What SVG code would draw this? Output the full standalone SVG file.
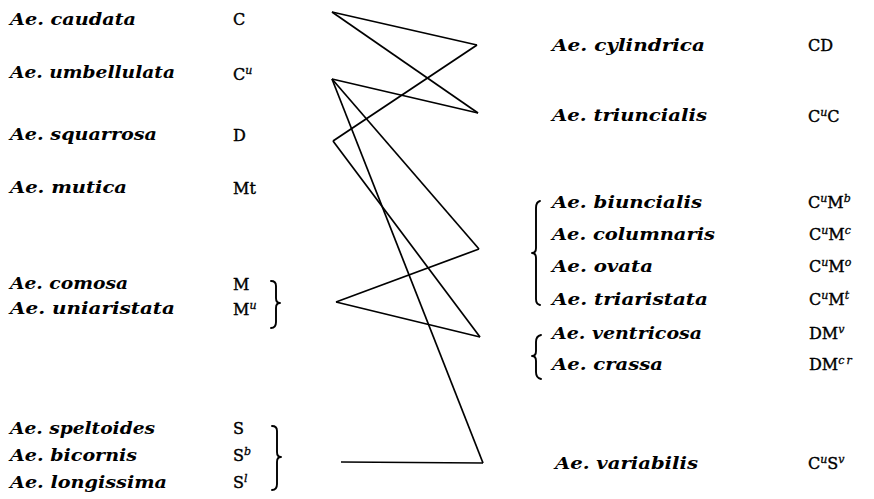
<svg xmlns="http://www.w3.org/2000/svg" width="874" height="499" viewBox="0 0 874 499">
<style>
.sp{font-family:"DejaVu Serif","Liberation Serif",serif;font-weight:bold;font-style:italic;font-size:16px;fill:#000}
.gn{font-family:"DejaVu Serif","Liberation Serif",serif;font-size:16px;fill:#000;stroke:#000;stroke-width:0.4}
.su{font-style:italic;font-size:11px;stroke-width:0.3}
.br{fill:none;stroke:#000;stroke-width:1.9;stroke-linecap:round;stroke-linejoin:round}
.cn{fill:none;stroke:#000;stroke-width:1.7;stroke-linejoin:miter;stroke-linecap:butt}
</style>
<rect width="874" height="499" fill="#fff"/>
<g id="caudata"><text class="sp" x="10" y="25" textLength="126" lengthAdjust="spacingAndGlyphs">Ae. caudata</text><text class="gn" x="233" y="25">C</text></g>
<g id="umbellulata"><text class="sp" x="10" y="78" textLength="165" lengthAdjust="spacingAndGlyphs">Ae. umbellulata</text><text class="gn" x="233" y="80">C<tspan class="su" dy="-6">u</tspan></text></g>
<g id="squarrosa"><text class="sp" x="10" y="140" textLength="147" lengthAdjust="spacingAndGlyphs">Ae. squarrosa</text><text class="gn" x="233" y="141">D</text></g>
<g id="mutica"><text class="sp" x="10" y="193" textLength="117" lengthAdjust="spacingAndGlyphs">Ae. mutica</text><text class="gn" x="233" y="194">Mt</text></g>
<g id="comosa"><text class="sp" x="10" y="289" textLength="118" lengthAdjust="spacingAndGlyphs">Ae. comosa</text><text class="gn" x="233" y="290">M</text></g>
<g id="uniaristata"><text class="sp" x="10" y="314" textLength="165" lengthAdjust="spacingAndGlyphs">Ae. uniaristata</text><text class="gn" x="233" y="315">M<tspan class="su" dy="-6">u</tspan></text></g>
<path id="brace-M" class="br" d="M271,281 Q276,281 276,286 L276,298 Q276,303 280,303 Q276,303 276,308 L276,322 Q276,328 271,328"/>
<g id="speltoides"><text class="sp" x="10" y="434" textLength="145" lengthAdjust="spacingAndGlyphs">Ae. speltoides</text><text class="gn" x="233" y="434">S</text></g>
<g id="bicornis"><text class="sp" x="10" y="461" textLength="127" lengthAdjust="spacingAndGlyphs">Ae. bicornis</text><text class="gn" x="233" y="461">S<tspan class="su" dy="-6">b</tspan></text></g>
<g id="longissima"><text class="sp" x="10" y="488" textLength="157" lengthAdjust="spacingAndGlyphs">Ae. longissima</text><text class="gn" x="233" y="488">S<tspan class="su" dy="-6">l</tspan></text></g>
<path id="brace-S" class="br" d="M272,426 Q277,426 277,431 L277,452 Q277,457 281,457 Q277,457 277,462 L277,484 Q277,490 272,490"/>
<g id="cylindrica"><text class="sp" x="552" y="51" textLength="153" lengthAdjust="spacingAndGlyphs">Ae. cylindrica</text><text class="gn" x="808" y="51" font-size="17">CD</text></g>
<g id="triuncialis"><text class="sp" x="552" y="121" textLength="155" lengthAdjust="spacingAndGlyphs">Ae. triuncialis</text><text class="gn" x="808" y="122" font-size="17">C<tspan class="su" dy="-6">u</tspan><tspan dy="6">C</tspan></text></g>
<g id="biuncialis"><text class="sp" x="552" y="208" textLength="150" lengthAdjust="spacingAndGlyphs">Ae. biuncialis</text><text class="gn" x="808" y="208">C<tspan class="su" dy="-6">u</tspan><tspan dy="6">M</tspan><tspan class="su" dy="-6">b</tspan></text></g>
<g id="columnaris"><text class="sp" x="552" y="240" textLength="163" lengthAdjust="spacingAndGlyphs">Ae. columnaris</text><text class="gn" x="809" y="240">C<tspan class="su" dy="-6">u</tspan><tspan dy="6">M</tspan><tspan class="su" dy="-6">c</tspan></text></g>
<g id="ovata"><text class="sp" x="552" y="272" textLength="101" lengthAdjust="spacingAndGlyphs">Ae. ovata</text><text class="gn" x="809" y="272">C<tspan class="su" dy="-6">u</tspan><tspan dy="6">M</tspan><tspan class="su" dy="-6">o</tspan></text></g>
<g id="triaristata"><text class="sp" x="552" y="305" textLength="156" lengthAdjust="spacingAndGlyphs">Ae. triaristata</text><text class="gn" x="809" y="305">C<tspan class="su" dy="-6">u</tspan><tspan dy="6">M</tspan><tspan class="su" dy="-6">t</tspan></text></g>
<path id="brace-CuM" class="br" d="M540,201 Q536,202 536,208 L536,248 Q536,253 532,253 Q536,253 536,258 L536,299 Q536,304 540,305"/>
<g id="ventricosa"><text class="sp" x="552" y="339" textLength="150" lengthAdjust="spacingAndGlyphs">Ae. ventricosa</text><text class="gn" x="809" y="339">DM<tspan class="su" dy="-6">v</tspan></text></g>
<g id="crassa"><text class="sp" x="552" y="370" textLength="111" lengthAdjust="spacingAndGlyphs">Ae. crassa</text><text class="gn" x="809" y="370">DM<tspan class="su" dy="-6" letter-spacing="2">cr</tspan></text></g>
<path id="brace-DM" class="br" d="M541,335 Q536,336 536,342 L536,351 Q536,356 532,356 Q536,356 536,361 L536,372 Q536,378 541,379"/>
<g id="variabilis"><text class="sp" x="555" y="469" textLength="143" lengthAdjust="spacingAndGlyphs">Ae. variabilis</text><text class="gn" x="808" y="469">C<tspan class="su" dy="-6">u</tspan><tspan dy="6">S</tspan><tspan class="su" dy="-6">v</tspan></text></g>
<g id="connectors">
<line class="cn" x1="332" y1="12" x2="477" y2="45"/>
<line class="cn" x1="332" y1="12" x2="478" y2="113"/>
<line class="cn" x1="332" y1="79" x2="478" y2="113"/>
<line class="cn" x1="333" y1="141" x2="477" y2="45"/>
<line class="cn" x1="332" y1="79" x2="479" y2="249"/>
<line class="cn" x1="336" y1="302" x2="479" y2="249"/>
<line class="cn" x1="336" y1="302" x2="480" y2="337"/>
<line class="cn" x1="333" y1="141" x2="480" y2="337"/>
<line class="cn" x1="332" y1="79" x2="483" y2="463"/>
<line class="cn" x1="341" y1="462" x2="483" y2="463"/>
</g>
</svg>
